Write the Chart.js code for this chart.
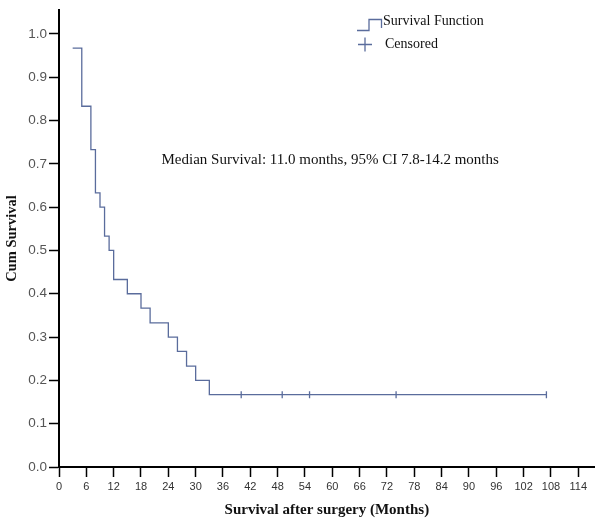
<!DOCTYPE html>
<html>
<head>
<meta charset="utf-8">
<script src="https://cdn.jsdelivr.net/npm/chart.js@4"></script>
<style>
  body { margin: 0; background: #fff; }
  #wrap { width: 600px; height: 522px; }
</style>
</head>
<body>
<div id="wrap"><canvas id="km"></canvas></div>
<script>
// Kaplan-Meier step points (event times in months, cumulative survival)
var eventTimes = [3, 5, 7, 8, 9, 10, 11, 12, 15, 18, 20, 24, 26, 28, 30, 33, 107];
var survival   = [0.967, 0.833, 0.733, 0.633, 0.600, 0.533, 0.500, 0.433, 0.400, 0.367, 0.333, 0.300, 0.267, 0.233, 0.200, 0.167, 0.167];
// censored observations
var censorTimes = [40, 49, 55, 74, 107];
var censorSurv  = [0.167, 0.167, 0.167, 0.167, 0.167];
// tick labels
var xTicks = [0, 6, 12, 18, 24, 30, 36, 42, 48, 54, 60, 66, 72, 78, 84, 90, 96, 102, 108, 114];
var yTicks = [0.0, 0.1, 0.2, 0.3, 0.4, 0.5, 0.6, 0.7, 0.8, 0.9, 1.0];
var medianNote = 'Median Survival: 11.0 months, 95% CI 7.8-14.2 months';

var lineColor = '#5a6c9c';
var serif = '"Liberation Serif", "Times New Roman", serif';
var sans = '"Liberation Sans", Arial, sans-serif';

var extras = {
  id: 'extras',
  afterDraw: function (chart) {
    var c = chart.ctx, xs = chart.scales.x, ys = chart.scales.y;
    c.save();
    // median note
    c.fillStyle = '#111';
    c.font = '15px ' + serif;
    c.textBaseline = 'middle';
    c.fillText(medianNote, xs.getPixelForValue(22.5), ys.getPixelForValue(0.709));
    // legend: step icon
    c.strokeStyle = lineColor;
    c.lineWidth = 1.3;
    c.beginPath();
    c.moveTo(357, 30.5);
    c.lineTo(369, 30.5);
    c.lineTo(369, 19.5);
    c.lineTo(381.5, 19.5);
    c.lineTo(381.5, 28);
    c.stroke();
    // legend: plus icon
    c.beginPath();
    c.moveTo(358, 44.5);
    c.lineTo(372, 44.5);
    c.moveTo(365, 37.5);
    c.lineTo(365, 51.5);
    c.stroke();
    c.font = '14px ' + serif;
    c.fillText('Survival Function', 383, 21);
    c.fillText('Censored', 385, 44);
    c.restore();
  }
};

new Chart(document.getElementById('km'), {
  type: 'scatter',
  data: {
    datasets: [{
      label: 'Survival Function',
      type: 'line',
      data: eventTimes.map(function (t, i) { return { x: t, y: survival[i] }; }),
      stepped: 'before',
      borderColor: lineColor,
      borderWidth: 1.3,
      pointRadius: 0,
      fill: false
    }, {
      label: 'Censored',
      data: censorTimes.map(function (t, i) { return { x: t, y: censorSurv[i] }; }),
      pointStyle: 'line',
      rotation: 90,
      pointRadius: 3.5,
      borderColor: lineColor,
      borderWidth: 1.3
    }]
  },
  options: {
    responsive: true,
    maintainAspectRatio: false,
    animation: false,
    layout: { padding: { top: 0, right: 2, left: 0, bottom: 0 } },
    plugins: { legend: { display: false }, tooltip: { enabled: false } },
    scales: {
      x: {
        type: 'linear',
        min: 0,
        max: 117.6,
        afterBuildTicks: function (s) { s.ticks = xTicks.map(function (v) { return { value: v }; }); },
        afterFit: function (s) { s.height = 55; },
        grid: { drawOnChartArea: false, drawTicks: true, tickLength: 10, color: '#000', tickWidth: 1.5 },
        border: { color: '#000', width: 2 },
        ticks: { color: '#333', font: { family: sans, size: 11 }, padding: 3, maxRotation: 0, autoSkip: false },
        title: { display: true, text: 'Survival after surgery (Months)', color: '#111', font: { family: serif, size: 15, weight: 'bold' }, padding: { top: 0, bottom: 3 } }
      },
      y: {
        type: 'linear',
        min: 0,
        max: 1.055,
        afterBuildTicks: function (s) { s.ticks = yTicks.map(function (v) { return { value: v }; }); },
        afterFit: function (s) { s.width = 59; },
        grid: { drawOnChartArea: false, drawTicks: true, tickLength: 10, color: '#000', tickWidth: 1.5 },
        border: { color: '#000', width: 2 },
        ticks: { color: '#555', font: { family: sans, size: 13.5 }, padding: 2, callback: function (v) { return v.toFixed(1); } },
        title: { display: true, text: 'Cum Survival', color: '#111', font: { family: serif, size: 14.5, weight: 'bold' }, padding: { top: 4, bottom: 2 } }
      }
    }
  },
  plugins: [extras]
});
</script>
</body>
</html>
